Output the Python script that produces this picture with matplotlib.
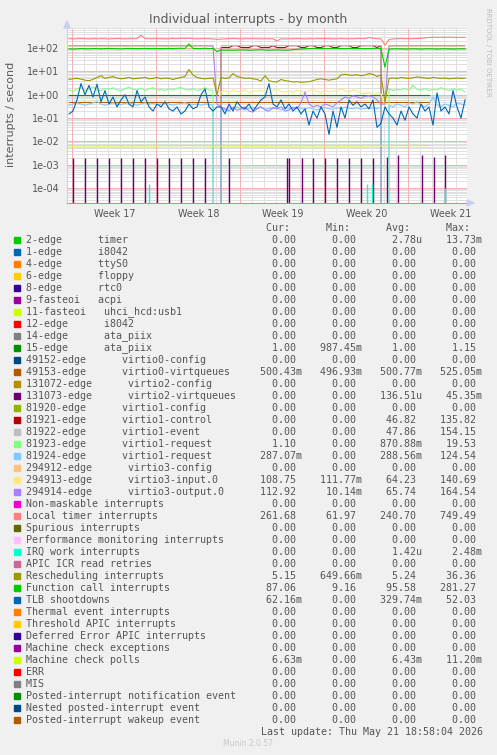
import numpy as np
import matplotlib
matplotlib.use('Agg')
import matplotlib.pyplot as plt
from matplotlib.patches import Rectangle, Polygon
from matplotlib.ticker import NullLocator

# --- Datos (interrupciones / segundo) ---
# 100 muestras, una cada 8 h, en días desde el borde izquierdo
t = (np.arange(100) + 0.5) / 3

local_timer = [
    250, 245, 250, 255, 250, 245, 250, 248, 252, 250,
    245, 250, 255, 250, 248, 250, 252, 250, 350, 255,
    250, 248, 252, 250, 245, 250, 255, 250, 260, 255,
    265, 250, 248, 250, 252, 250, 245, 235, 240, 248,
    250, 255, 250, 245, 250, 248, 252, 250, 245, 250,
    248, 250, 200, 250, 245, 250, 248, 252, 250, 245,
    250, 248, 252, 250, 255, 250, 245, 250, 252, 250,
    248, 250, 252, 255, 250, 280, 260, 250, 245, 130,
    230, 245, 250, 255, 250, 252, 250, 255, 260, 270,
    285, 290, 285, 290, 288, 292, 290, 285, 288, 290]

function_call = [
    92, 90, 92, 95, 93, 92, 95, 94, 92, 95,
    96, 95, 93, 92, 95, 96, 95, 94, 95, 96,
    95, 96, 95, 94, 95, 96, 95, 97, 98, 96,
    150, 96, 95, 96, 97, 95, 96, 70, 82, 80,
    82, 80, 82, 83, 82, 80, 82, 83, 85, 82,
    80, 82, 83, 82, 80, 82, 85, 88, 90, 92,
    95, 96, 95, 94, 96, 95, 97, 96, 95, 94,
    96, 95, 96, 95, 94, 95, 96, 97, 95, 15,
    90, 92, 93, 92, 90, 92, 93, 92, 90, 92,
    93, 92, 90, 92, 93, 92, 90, 92, 93, 92]

rescheduling = [
    4.5, 4.8, 5.0, 4.6, 4.2, 4.0, 4.5, 5.5, 6.5, 5.0,
    5.5, 6.0, 5.2, 4.8, 5.0, 5.5, 4.8, 5.0, 5.2, 5.5,
    4.8, 5.0, 5.5, 4.8, 5.2, 5.0, 4.5, 5.0, 5.5, 6.0,
    12.0, 7.0, 5.5, 5.0, 4.8, 5.0, 5.2, 1.0, 5.5, 5.0,
    5.2, 8.0, 6.0, 5.5, 5.0, 5.2, 4.8, 4.5, 3.8, 6.5,
    4.0, 3.6, 3.5, 4.5, 4.0, 3.8, 3.5, 3.6, 3.4, 3.5,
    3.6, 4.0, 4.5, 4.8, 4.5, 4.2, 4.5, 4.8, 7.0, 7.5,
    7.0, 6.8, 7.2, 6.5, 7.0, 8.0, 7.5, 6.0, 7.0, 0.5,
    5.0, 5.2, 5.0, 5.5, 5.2, 5.0, 5.3, 5.8, 5.5, 5.2,
    5.0, 5.5, 5.2, 5.0, 5.2, 4.8, 5.0, 5.2, 5.0, 5.1]

tlb = [
    0.15, 0.2, 0.6, 3.0, 1.0, 2.5, 0.8, 2.8, 0.5, 1.5,
    0.4, 0.8, 0.3, 0.6, 1.0, 0.4, 0.3, 1.5, 0.5, 0.8,
    0.3, 0.2, 0.4, 0.3, 0.5, 0.25, 0.2, 0.3, 0.15, 0.2,
    0.4, 0.25, 0.3, 1.0, 1.8, 0.3, 0.2, 0.3, 0.3, 0.15,
    0.4, 0.2, 0.5, 0.3, 0.25, 0.4, 0.2, 0.35, 0.6, 0.8,
    3.0, 0.4, 0.3, 0.6, 0.25, 0.4, 0.2, 0.3, 0.15, 0.25,
    0.05, 0.2, 0.1, 0.3, 0.15, 0.02, 0.2, 0.04, 0.3, 0.1,
    0.6, 0.35, 0.5, 0.3, 0.4, 0.25, 0.6, 0.04, 0.06, 0.3,
    0.15, 0.1, 0.05, 0.2, 0.08, 0.3, 0.15, 0.1, 0.4, 0.2,
    0.3, 0.05, 1.2, 0.2, 0.3, 0.15, 1.5, 0.3, 0.1, 0.6]

virtio3_out = [
    125, 124, 125, 126, 125, 124, 125, 125, 126, 125,
    125, 124, 125, 126, 125, 124, 125, 125, 126, 125,
    125, 124, 125, 126, 125, 124, 125, 125, 126, 125,
    125, 124, 125, 126, 125, 124, 125, 0.4, 0.3, 0.25,
    0.2, 0.3, 0.22, 0.25, 0.3, 0.2, 0.18, 0.25, 0.3, 0.22,
    0.2, 0.28, 0.25, 0.3, 0.2, 0.22, 0.3, 0.25, 0.45, 1.3,
    0.4, 0.3, 0.35, 0.3, 0.4, 0.35, 0.3, 0.45, 0.6, 0.8,
    0.7, 0.9, 0.8, 0.7, 0.85, 0.9, 0.8, 0.6, 0.4, 0.4,
    125, 124, 125, 126, 125, 124, 125, 125, 126, 125,
    125, 124, 125, 126, 125, 124, 125, 125, 126, 125]

virtio3_in = [
    118, 117, 118, 119, 118, 117, 118, 118, 119, 118,
    118, 117, 118, 119, 118, 117, 118, 118, 119, 118,
    118, 117, 118, 119, 118, 117, 118, 118, 119, 118,
    118, 117, 118, 119, 118, 117, 118, 0.5, 1.3, 1.5,
    1.2, 1.6, 1.4, 1.3, 1.7, 1.2, 1.5, 1.4, 1.6, 1.3,
    1.2, 1.5, 1.8, 1.4, 1.3, 1.5, 1.2, 1.6, 1.4, 1.3,
    1.5, 1.7, 1.4, 1.2, 1.6, 1.3, 1.5, 1.4, 1.8, 1.5,
    1.3, 1.6, 1.4, 1.2, 1.1, 1.3, 1.0, 1.2, 1.1, 0.3,
    118, 117, 118, 119, 118, 117, 118, 118, 119, 118,
    118, 117, 118, 119, 118, 117, 118, 118, 119, 110]

virtio1_req_a = [
    1.6, 1.4, 1.8, 2.0, 1.5, 1.7, 2.2, 1.6, 1.5, 1.9,
    1.7, 2.0, 1.6, 1.5, 1.8, 2.1, 1.7, 1.6, 1.9, 1.5,
    1.8, 2.0, 1.6, 1.7, 1.5, 1.8, 1.6, 1.9, 2.0, 1.7,
    1.6, 1.8, 1.5, 1.7, 2.0, 1.6, 1.5, 0, 0, 0,
    0, 0, 0, 0, 0, 0, 0, 0, 0, 0,
    0, 0, 0, 0, 0, 0, 0, 0, 0, 0,
    0, 0, 0, 0, 0, 0, 0, 0, 0, 0,
    0, 0, 0, 0, 0, 0, 0, 0, 0, 0,
    1.8, 1.5, 1.7, 1.6, 1.9, 1.5, 2.6, 1.7, 1.6, 1.8,
    1.5, 1.7, 1.6, 2.0, 1.7, 1.5, 1.8, 1.6, 1.7, 1.3]

virtio1_req_b = [
    0.35, 0.4, 0.45, 0.4, 0.35, 0.4, 0.45, 0.5, 0.4, 0.35,
    0.4, 0.45, 0.4, 0.38, 0.42, 0.45, 0.4, 0.35, 0.4, 0.45,
    0.4, 0.42, 0.38, 0.4, 0.45, 0.4, 0.35, 0.4, 0.42, 0.45,
    0.4, 0.38, 0.4, 0.35, 0.4, 0.38, 0.35, 0, 0.25, 0.22,
    0.28, 0.25, 0.3, 0.25, 0.22, 0.26, 0.28, 0.25, 0.3, 0.24,
    0.26, 0.25, 0.28, 0.22, 0.25, 0.27, 0.25, 0.3, 0.26, 0.24,
    0.28, 0.25, 0.22, 0.26, 0.28, 0.25, 0.24, 0.27, 0.25, 0.3,
    0.26, 0.25, 0.28, 0.24, 0.26, 0.25, 0.28, 0.25, 0.3, 0,
    0.35, 0.3, 0.4, 0.35, 0.3, 0.45, 0.4, 0.5, 0.35, 0.3,
    0.4, 0.8, 0.35, 0.3, 0.4, 0.35, 0.3, 0.45, 0.4, 0.35]

virtio1_ctl = [
    0, 0, 0, 0, 0, 0, 0, 0, 0, 0,
    0, 0, 0, 0, 0, 0, 0, 0, 0, 0,
    0, 0, 0, 0, 0, 0, 0, 0, 0, 0,
    0, 0, 0, 0, 0, 0, 0, 0, 105, 106,
    105, 126, 126, 106, 105, 104, 126, 126, 105, 106,
    105, 126, 105, 104, 105, 126, 126, 126, 105, 106,
    126, 126, 105, 104, 126, 126, 105, 105, 126, 126,
    126, 104, 105, 126, 126, 126, 126, 105, 126, 0,
    0, 0, 0, 0, 0, 0, 0, 0, 0, 0,
    0, 0, 0, 0, 0, 0, 0, 0, 0, 0]

virtio1_evt = [
    0, 0, 0, 0, 0, 0, 0, 0, 0, 0,
    0, 0, 0, 0, 0, 0, 0, 0, 0, 0,
    0, 0, 0, 0, 0, 0, 0, 0, 0, 0,
    0, 0, 0, 0, 0, 0, 0, 0, 126, 127,
    126, 126, 127, 126, 126, 127, 126, 126, 127, 126,
    126, 127, 126, 126, 127, 126, 126, 127, 126, 126,
    127, 126, 126, 127, 126, 126, 127, 126, 126, 127,
    126, 126, 127, 126, 126, 127, 126, 126, 127, 0,
    0, 0, 0, 0, 0, 0, 0, 0, 0, 0,
    0, 0, 0, 0, 0, 0, 0, 0, 0, 0]

# series casi constantes (cada 10 muestras)
ata_piix = [1.0, 1.0, 1.0, 1.0, 1.0, 1.0, 1.0, 1.0, 1.0, 1.0]
virtio0_vq = [0.5, 0.5, 0.5, 0.5, 0.5, 0.5, 0.5, 0.5, 0.5, 0.5]
mc_polls = [0.0065, 0.0064, 0.0065, 0.0066, 0.0064, 0.0064, 0.0065, 0.0064, 0.0066, 0.0066]

# picos (días, valor)
virtio2_dias = [0.53, 1.53, 2.53, 3.53, 4.53, 5.53, 6.53, 7.53, 8.53, 9.53, 10.53, 11.53,
                13.53, 18.36, 18.47, 19.58, 20.53, 21.53, 22.53, 23.53, 24.53, 25.53,
                26.64, 27.61, 29.56, 30.58, 31.53]
virtio2_pico = [2.0e-3, 2.0e-3, 2.0e-3, 2.0e-3, 2.0e-3, 2.0e-3, 2.0e-3, 2.0e-3, 2.0e-3,
                2.0e-3, 2.0e-3, 2.0e-3, 2.0e-3, 2.0e-3, 2.0e-3, 2.0e-3, 2.0e-3, 2.0e-3,
                2.0e-3, 2.0e-3, 2.0e-3, 2.0e-3, 2.2e-3, 2.6e-3, 2.5e-3, 2.2e-3, 2.5e-3]
irq_work_dias = [6.83, 25.0, 25.44, 31.5]
irq_work_pico = [1.45e-4, 1.45e-4, 1.45e-4, 1.0e-4]

semanas = ['Week 17', 'Week 18', 'Week 19', 'Week 20', 'Week 21']

# leyenda
nombres = [
    '2-edge      timer', '1-edge      i8042', '4-edge      ttyS0', '6-edge      floppy',
    '8-edge      rtc0', '9-fasteoi   acpi', '11-fasteoi   uhci_hcd:usb1', '12-edge      i8042',
    '14-edge      ata_piix', '15-edge      ata_piix', '49152-edge      virtio0-config',
    '49153-edge      virtio0-virtqueues', '131072-edge      virtio2-config',
    '131073-edge      virtio2-virtqueues', '81920-edge      virtio1-config',
    '81921-edge      virtio1-control', '81922-edge      virtio1-event',
    '81923-edge      virtio1-request', '81924-edge      virtio1-request',
    '294912-edge      virtio3-config', '294913-edge      virtio3-input.0',
    '294914-edge      virtio3-output.0', 'Non-maskable interrupts', 'Local timer interrupts',
    'Spurious interrupts', 'Performance monitoring interrupts', 'IRQ work interrupts',
    'APIC ICR read retries', 'Rescheduling interrupts', 'Function call interrupts',
    'TLB shootdowns', 'Thermal event interrupts', 'Threshold APIC interrupts',
    'Deferred Error APIC interrupts', 'Machine check exceptions', 'Machine check polls',
    'ERR', 'MIS', 'Posted-interrupt notification event', 'Nested posted-interrupt event',
    'Posted-interrupt wakeup event']
colores = [
    '#00CC00', '#0066B3', '#FF8000', '#FFCC00', '#330099', '#990099', '#CCFF00', '#FF0000',
    '#808080', '#008F00', '#00487D', '#B35A00', '#B38F00', '#6B006B', '#8FB300', '#B30000',
    '#BEBEBE', '#80FF80', '#80C9FF', '#FFC080', '#FFE680', '#AA80FF', '#EE00CC', '#FF8080',
    '#666600', '#FFBFFF', '#00FFCC', '#CC6699', '#999900', '#00CC00', '#0066B3', '#FF8000',
    '#FFCC00', '#330099', '#990099', '#CCFF00', '#FF0000', '#808080', '#008F00', '#00487D',
    '#B35A00']
z = '0.00'
cur = [z] * 9 + ['1.00', z, '500.43m', z, z, z, z, z, '1.10', '287.07m', z, '108.75', '112.92',
       z, '261.68', z, z, z, z, '5.15', '87.06', '62.16m', z, z, z, z, '6.63m', z, z, z, z, z]
mins = [z] * 9 + ['987.45m', z, '496.93m', z, z, z, z, z, z, z, z, '111.77m', '10.14m',
        z, '61.97', z, z, z, z, '649.66m', '9.16', z, z, z, z, z, z, z, z, z, z, z]
avgs = ['2.78u'] + [z] * 8 + ['1.00', z, '500.77m', z, '136.51u', z, '46.82', '47.86',
        '870.88m', '288.56m', z, '64.23', '65.74', z, '240.70', z, z, '1.42u', z, '5.24',
        '95.58', '329.74m', z, z, z, z, '6.43m', z, z, z, z, z]
maxs = ['13.73m'] + [z] * 8 + ['1.15', z, '525.05m', z, '45.35m', z, '135.82', '154.15',
        '19.53', '124.54', z, '140.69', '164.54', z, '749.49', z, z, '2.48m', z, '36.36',
        '281.27', '52.03', z, z, z, z, '11.20m', z, z, z, z, z]

# --- Figura ---
W, H = 497, 755
fig = plt.figure(figsize=(W / 100, H / 100), dpi=100)
fig.patch.set_facecolor('#F0F0F0')

ax = fig.add_axes([67 / W, 1 - 203 / H, 400 / W, 175 / H])
ax.set_facecolor('white')
ax.set_yscale('log')
ax.set_xlim(0, 400 / 12)
ax.set_ylim(2.3e-5, 720)

# rejilla estilo rrdtool (punteada, ajustada al píxel)
inicio_semana = 0.42
punteado = dict(lw=0.72, ls=(0, (1, 1)), snap=True, antialiased=False)
for d in np.arange(inicio_semana, 33.4, 1):
    ax.axvline(d, color='#E0E0E0', zorder=0, **punteado)
for e in range(-5, 3):
    for k in range(2, 10):
        ax.axhline(k * 10.0 ** e, color='#E0E0E0', zorder=0, **punteado)
for d in np.arange(inicio_semana, 33.4, 7):
    ax.axvline(d, color='#F4B4B4', zorder=0.5, **punteado)
for e in range(-4, 3):
    ax.axhline(10.0 ** e, color='#F4B4B4', zorder=0.5, **punteado)

lw = 0.8
ax.plot(t[::10], ata_piix, color='#008F00', lw=lw)
ax.plot(t[::10], virtio0_vq, color='#B35A00', lw=lw)
ax.vlines(virtio2_dias, 1e-6, virtio2_pico, color='#6B006B', lw=1.0)
ax.plot(t, virtio1_ctl, color='#B30000', lw=lw)
ax.plot(t, virtio1_evt, color='#BEBEBE', lw=lw)
ax.plot(t, virtio1_req_a, color='#80FF80', lw=lw)
ax.plot(t, virtio1_req_b, color='#80C9FF', lw=lw)
ax.plot(t, virtio3_in, color='#FFE680', lw=lw)
ax.plot(t, virtio3_out, color='#AA80FF', lw=lw)
ax.plot(t, local_timer, color='#FF8080', lw=lw)
ax.vlines(irq_work_dias, 1e-6, irq_work_pico, color='#00FFCC', lw=1.0)
ax.plot(t, rescheduling, color='#999900', lw=lw)
ax.plot(t, function_call, color='#00CC00', lw=lw)
ax.plot(t, tlb, color='#0066B3', lw=lw)
ax.plot(t[::10], mc_polls, color='#CCFF00', lw=lw)

# ejes
for s in ['top', 'right']:
    ax.spines[s].set_visible(False)
ax.spines['left'].set_color('#C8D0F0')
ax.spines['bottom'].set_color('#C89088')
ax.spines['left'].set_linewidth(0.8)
ax.spines['bottom'].set_linewidth(0.8)
ax.set_yticks([10.0 ** e for e in range(-4, 3)],
              ['1e-04', '1e-03', '1e-02', '1e-01', '1e+00', '1e+01', '1e+02'])
ax.yaxis.set_minor_locator(NullLocator())
ax.set_xticks([inicio_semana + 3.55 + 7 * k for k in range(5)], semanas)
ax.tick_params(length=0, labelsize=6.9, labelcolor='#555555')
ax.tick_params(axis='y', pad=5.5)
ax.tick_params(axis='x', pad=4)

# capa en píxeles para textos y leyenda
ov = fig.add_axes([0, 0, 1, 1])
ov.set_xlim(0, W)
ov.set_ylim(H, 0)
ov.axis('off')

# flechas de los ejes
ov.add_patch(Polygon([[64, 28], [70, 28], [67, 21]], closed=True, color='#C8D0F0'))
ov.add_patch(Polygon([[467, 200], [467, 206], [474, 203]], closed=True, color='#C8D0F0'))

ov.text(248, 19, 'Individual interrupts - by month', ha='center', va='center',
        fontsize=9, color='#5A5A5A')
ov.text(11, 114, 'interrupts / second', rotation=90, ha='center', va='center',
        fontsize=8, color='#5A5A5A')
ov.text(488, 52, 'RRDTOOL / TOBI OETIKER', rotation=270, ha='center', va='center',
        fontsize=5, color='#BBBBBB')

mono = dict(family='DejaVu Sans Mono', fontsize=7.2, color='#555555', va='center')


def col(v):
    # rrdtool deja un hueco para el sufijo (m, u)
    return (v if v[-1].isalpha() else v + ' ').rjust(10)


ov.text(26, 228, ' ' * 40 + 'Cur:' + ' ' * 6 + 'Min:' + ' ' * 6 + 'Avg:' + ' ' * 6 + 'Max:', **mono)
for i, nombre in enumerate(nombres):
    y = 240 + 12 * i
    ov.add_patch(Rectangle((14, y - 3), 6, 6, color=colores[i]))
    fila = nombre.ljust(36) + col(cur[i]) + col(mins[i]) + col(avgs[i]) + col(maxs[i])
    ov.text(26, y, fila, **mono)

ov.text(483, 732, 'Last update: Thu May 21 18:58:04 2026', ha='right', **mono)
ov.text(248, 744, 'Munin 2.0.57', ha='center', va='center', fontsize=5.5, color='#C8C8C8')

fig.savefig('out.png', dpi=100, facecolor=fig.get_facecolor())
